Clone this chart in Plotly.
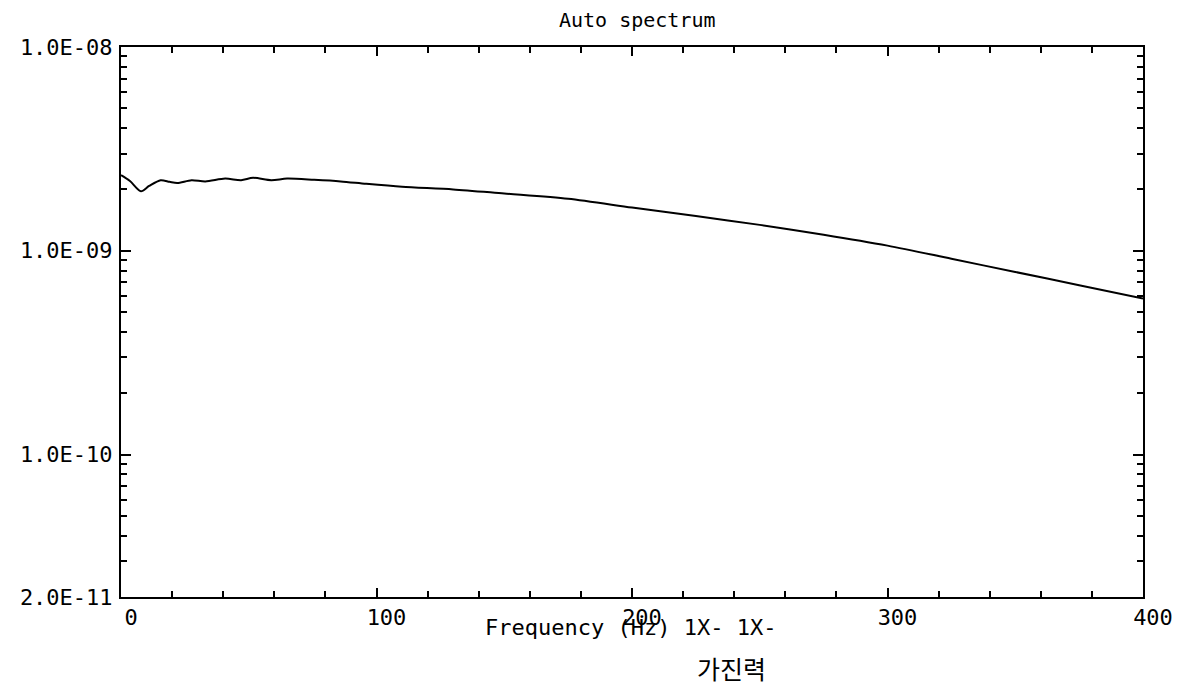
import plotly.graph_objects as go
import math

# Data
freq_hz = [0, 3.5, 7.8, 11, 15.5, 19, 22, 27.6, 33, 40.8, 47, 51.7, 58.8, 65,
           75.6, 86, 96, 110, 130, 150, 175, 200, 225, 250, 275, 300, 325,
           350, 375, 400]
auto_spec = [2.35e-9, 2.20e-9, 1.96e-9, 2.08e-9, 2.22e-9, 2.18e-9, 2.15e-9,
             2.22e-9, 2.19e-9, 2.26e-9, 2.22e-9, 2.28e-9, 2.22e-9, 2.26e-9,
             2.23e-9, 2.19e-9, 2.13e-9, 2.06e-9, 2.00e-9, 1.91e-9, 1.80e-9,
             1.63e-9, 1.48e-9, 1.34e-9, 1.20e-9, 1.06e-9, 9.14e-10, 7.87e-10,
             6.78e-10, 5.83e-10]

x_tickvals = [0, 100, 200, 300, 400]
x_ticktext = ["0", "100", "200", "300", "400"]
y_tickvals = [1e-8, 1e-9, 1e-10, 2e-11]
y_ticktext = ["1.0E-08", "1.0E-09", "1.0E-10", "2.0E-11"]
y_minor = [k * 10.0 ** e for e in (-11, -10, -9) for k in range(2, 10)]

title_text = "Auto spectrum"
xlabel_text = "Frequency (Hz) 1X- 1X-"
korean_text = "가진력"

FONT = "DejaVu Sans Mono"

fig = go.Figure()
fig.add_trace(go.Scatter(
    x=freq_hz, y=auto_spec, mode="lines",
    line=dict(color="black", width=2, shape="spline", smoothing=0.8),
    showlegend=False, hoverinfo="skip",
))

fig.update_layout(
    width=1184, height=678,
    margin=dict(l=103, r=49, t=39, b=89),
    paper_bgcolor="white", plot_bgcolor="white",
    font=dict(family=FONT, color="black", size=22),
    showlegend=False,
)

fig.update_xaxes(
    range=[0, 400], showgrid=False, zeroline=False,
    showline=True, linecolor="black", linewidth=2, mirror="ticks",
    ticks="inside", ticklen=9, tickwidth=2, tickcolor="black",
    tickvals=x_tickvals, ticktext=x_ticktext,
    tickfont=dict(family=FONT, size=22),
    ticklabelshift=10, ticklabelstandoff=0,
    minor=dict(dtick=20, ticks="inside", ticklen=6, tickwidth=2,
               tickcolor="black", showgrid=False),
)
fig.update_yaxes(
    type="log", range=[math.log10(2e-11), -8], showgrid=False, zeroline=False,
    showline=True, linecolor="black", linewidth=2, mirror="ticks",
    ticks="inside", ticklen=10, tickwidth=2, tickcolor="black",
    tickvals=y_tickvals, ticktext=y_ticktext,
    tickfont=dict(family=FONT, size=22),
    ticklabelstandoff=2,
    minor=dict(tickvals=y_minor, ticks="inside", ticklen=6, tickwidth=2,
               tickcolor="black", showgrid=False),
)

fig.add_annotation(text=title_text, xref="paper", yref="paper",
                   x=(633 - 111) / 1032, y=1, yshift=27, showarrow=False,
                   xanchor="center", yanchor="middle", borderpad=0,
                   font=dict(family=FONT, size=20))
fig.add_annotation(text=xlabel_text, xref="paper", yref="paper",
                   x=(625 - 111) / 1032, y=0, yshift=-30, showarrow=False,
                   xanchor="center", yanchor="middle",
                   font=dict(family=FONT, size=22))
fig.add_annotation(text=korean_text, xref="paper", yref="paper",
                   x=(727 - 111) / 1032, y=0, yshift=-71, showarrow=False,
                   xanchor="center", yanchor="middle",
                   font=dict(family="Noto Sans CJK KR", size=25))

fig.write_html("out.html")
